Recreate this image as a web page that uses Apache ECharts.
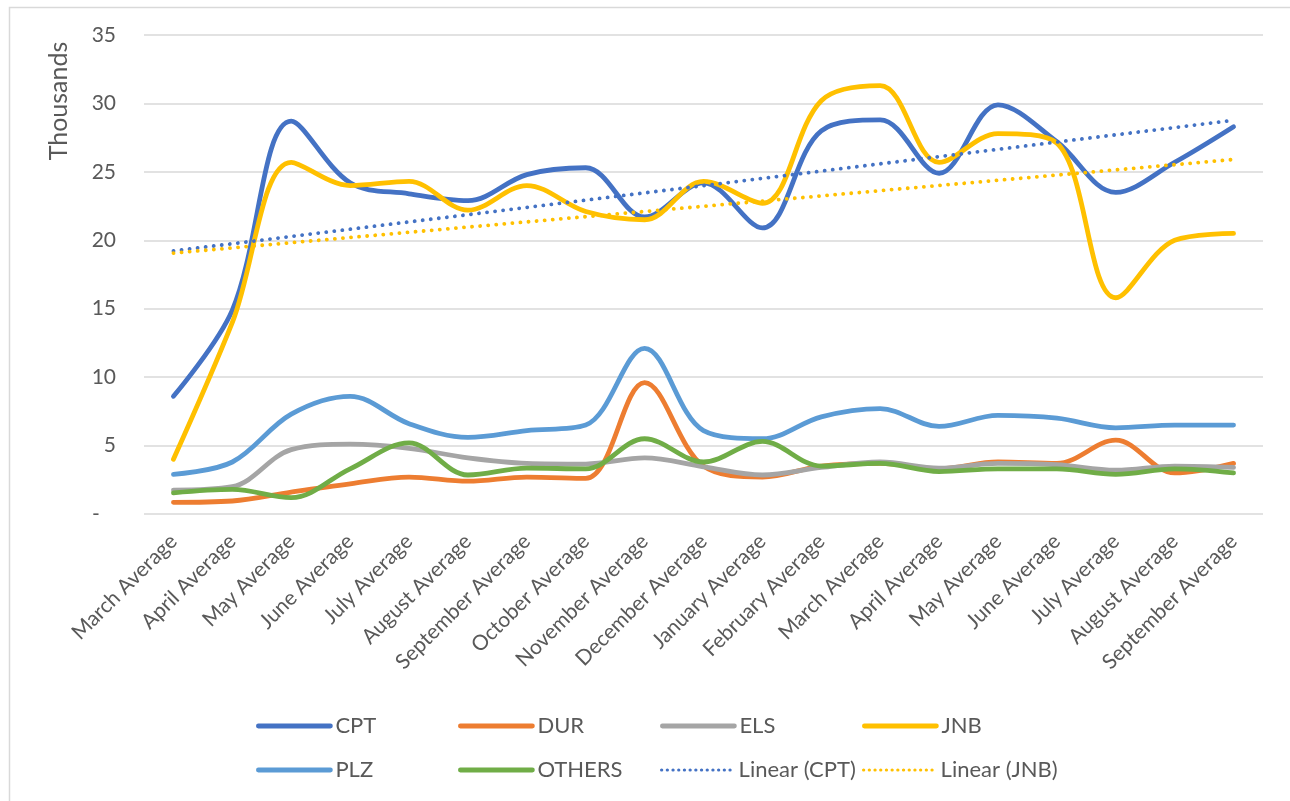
<!DOCTYPE html>
<html>
<head>
<meta charset="utf-8">
<script src="https://cdn.jsdelivr.net/npm/echarts@6/dist/echarts.min.js"></script>
<style>
  html, body { margin: 0; padding: 0; background: #fff; }
  #chart { width: 1290px; height: 801px; }
</style>
</head>
<body>
<div id="chart"></div>
<script>
// Monthly averages (in thousands) per site
const categories = [
  'March Average', 'April Average', 'May Average', 'June Average', 'July Average',
  'August Average', 'September Average', 'October Average', 'November Average',
  'December Average', 'January Average', 'February Average', 'March Average',
  'April Average', 'May Average', 'June Average', 'July Average', 'August Average',
  'September Average'
];
const cpt    = [8.6, 14.9, 28.7, 24.2, 23.4, 22.9, 24.8, 25.3, 21.7, 24.2, 20.9, 28.0, 28.8, 24.9, 29.9, 27.2, 23.5, 25.7, 28.3];
const dur    = [0.85, 0.95, 1.6, 2.2, 2.7, 2.4, 2.7, 2.6, 9.6, 3.5, 2.7, 3.5, 3.7, 3.3, 3.8, 3.7, 5.4, 3.0, 3.7];
const els    = [1.75, 2.0, 4.7, 5.1, 4.8, 4.1, 3.7, 3.65, 4.1, 3.45, 2.85, 3.4, 3.8, 3.35, 3.7, 3.6, 3.2, 3.5, 3.4];
const jnb    = [4.0, 14.0, 25.7, 24.0, 24.3, 22.2, 24.0, 22.1, 21.5, 24.3, 22.7, 30.2, 31.3, 25.7, 27.8, 27.1, 15.8, 20.0, 20.5];
const plz    = [2.9, 3.8, 7.3, 8.6, 6.6, 5.6, 6.1, 6.5, 12.1, 6.1, 5.5, 7.1, 7.7, 6.4, 7.2, 7.0, 6.3, 6.5, 6.5];
const others = [1.55, 1.8, 1.2, 3.3, 5.2, 2.85, 3.35, 3.3, 5.5, 3.8, 5.3, 3.5, 3.7, 3.1, 3.3, 3.3, 2.9, 3.3, 3.0];
const yTicks = [0, 5, 10, 15, 20, 25, 30, 35];

// Least-squares trend line over the category index
function linearTrend(values) {
  const n = values.length;
  let sx = 0, sy = 0, sxy = 0, sxx = 0;
  values.forEach((v, i) => { sx += i; sy += v; sxy += i * v; sxx += i * i; });
  const slope = (n * sxy - sx * sy) / (n * sxx - sx * sx);
  const icpt = (sy - slope * sx) / n;
  return values.map((_, i) => +(icpt + slope * i).toFixed(3));
}

const FONT = 'Lato, "Open Sans", sans-serif';
const TEXT = '#595959';
const DOTS = [0.1, 8];

const solid = (name, data, color) => ({
  name, type: 'line', data, smooth: 0.35, symbol: 'none',
  lineStyle: { color, width: 4.8, cap: 'round', join: 'round' },
  itemStyle: { color }
});
const trend = (name, data, color) => ({
  name, type: 'line', data, smooth: false, symbol: 'none', z: 3,
  lineStyle: { color, width: 3.8, type: DOTS, cap: 'round' },
  itemStyle: { color }
});

const series = [
  solid('CPT', cpt, '#4472C4'),
  solid('DUR', dur, '#ED7D31'),
  solid('ELS', els, '#A5A5A5'),
  solid('JNB', jnb, '#FFC000'),
  solid('PLZ', plz, '#5B9BD5'),
  solid('OTHERS', others, '#70AD47'),
  trend('Linear (CPT)', linearTrend(cpt), '#4472C4'),
  trend('Linear (JNB)', linearTrend(jnb), '#FFC000')
];

// Legend laid out as a 4-column, 2-row table
const legendCols = [256, 458, 660, 862];
const legendRows = [715, 759];
const legendNames = ['CPT', 'DUR', 'ELS', 'JNB', 'PLZ', 'OTHERS', 'Linear (CPT)', 'Linear (JNB)'];
const legends = legendNames.map((nm, i) => {
  const dotted = nm.startsWith('Linear');
  return {
    data: [nm],
    left: legendCols[i % 4],
    top: legendRows[Math.floor(i / 4)],
    itemWidth: 72, itemHeight: 22, itemGap: 0,
    padding: 0,
    selectedMode: false,
    itemStyle: { opacity: 0 },
    lineStyle: dotted
      ? { width: 3.2, type: [0.1, 5.6], cap: 'round' }
      : { width: 4.8, cap: 'round' },
    textStyle: { color: TEXT, fontSize: 22, fontFamily: FONT }
  };
});

const chart = echarts.init(document.getElementById('chart'), null, { renderer: 'canvas' });
chart.setOption({
  backgroundColor: '#fff',
  animation: false,
  grid: { left: 144, right: 27, top: 35, bottom: 287, containLabel: false },
  legend: legends,
  xAxis: {
    type: 'category',
    data: categories,
    boundaryGap: true,
    axisLine: { show: false },
    axisTick: { show: false },
    axisLabel: { rotate: 45, interval: 0, margin: 24, color: TEXT, fontSize: 21, fontFamily: FONT }
  },
  yAxis: {
    type: 'value',
    min: 0, max: 35, interval: 5,
    axisLine: { show: false },
    axisTick: { show: false },
    splitLine: { lineStyle: { color: '#D9D9D9', width: 1.5 } },
    axisLabel: {
      margin: 28, color: TEXT, fontSize: 21, fontFamily: FONT,
      formatter: v => (yTicks.includes(v) ? (v === 0 ? '-   ' : String(v)) : '')
    }
  },
  graphic: [
    {
      type: 'rect', left: 7, top: 5, silent: true,
      shape: { width: 1400, height: 900 },
      style: { fill: 'none', stroke: '#D9D9D9', lineWidth: 1.5 }
    },
    {
      type: 'text', x: 46, y: 101, rotation: Math.PI / 2,
      style: {
        text: 'Thousands', fill: TEXT, fontSize: 25, fontFamily: FONT,
        align: 'center', verticalAlign: 'top'
      }
    }
  ],
  series
});
</script>
</body>
</html>
